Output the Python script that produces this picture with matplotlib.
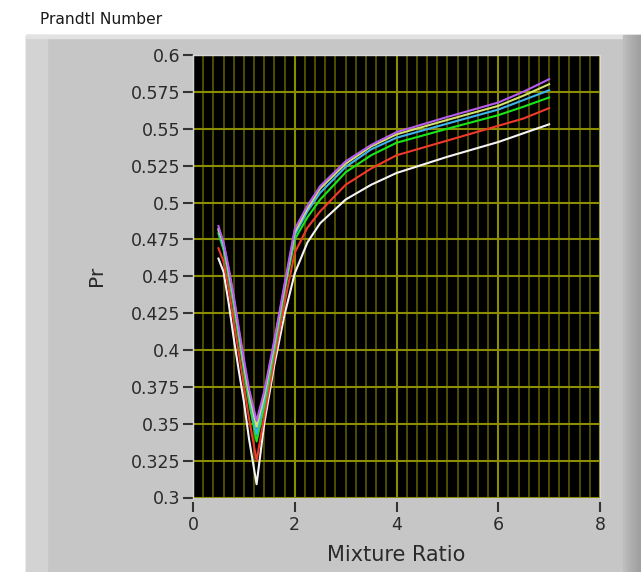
import numpy as np
import matplotlib
matplotlib.use('Agg')
import matplotlib.pyplot as plt
from matplotlib.patches import Rectangle
from matplotlib.ticker import MultipleLocator

# mixture ratio (x) and Pr for the six curves
mr = [0.5, 0.6, 0.7, 0.8, 0.9, 1.0, 1.1, 1.25, 1.4, 1.6, 1.8, 2.0, 2.25, 2.5,
      3.0, 3.5, 4.0, 5.0, 6.0, 6.5, 7.0]

pr_white = [0.462, 0.453, 0.432, 0.408, 0.386, 0.365, 0.340, 0.309, 0.350, 0.390, 0.424,
            0.452, 0.473, 0.486, 0.502, 0.512, 0.520, 0.531, 0.541, 0.547, 0.553]
pr_red = [0.469, 0.460, 0.442, 0.420, 0.398, 0.376, 0.354, 0.325, 0.355, 0.394, 0.432,
          0.466, 0.483, 0.494, 0.512, 0.523, 0.532, 0.542, 0.552, 0.557, 0.564]
pr_green = [0.479, 0.468, 0.450, 0.430, 0.408, 0.386, 0.365, 0.338, 0.362, 0.400, 0.440,
            0.475, 0.490, 0.502, 0.5205, 0.532, 0.5405, 0.550, 0.5592, 0.565, 0.5712]
pr_cyan = [0.481, 0.470, 0.452, 0.433, 0.411, 0.389, 0.369, 0.343, 0.366, 0.403, 0.442,
           0.478, 0.494, 0.5066, 0.5241, 0.536, 0.5439, 0.5535, 0.563, 0.5695, 0.5761]
pr_yellow = [0.482, 0.472, 0.454, 0.435, 0.413, 0.391, 0.371, 0.348, 0.369, 0.405, 0.443,
             0.480, 0.496, 0.5095, 0.5263, 0.538, 0.5462, 0.556, 0.5655, 0.5725, 0.5802]
pr_purple = [0.484, 0.473, 0.456, 0.437, 0.415, 0.394, 0.374, 0.352, 0.372, 0.407, 0.445,
             0.482, 0.498, 0.5111, 0.5279, 0.539, 0.5477, 0.558, 0.5678, 0.5752, 0.5836]

yticks = [0.3, 0.325, 0.35, 0.375, 0.4, 0.425, 0.45, 0.475, 0.5, 0.525, 0.55, 0.575, 0.6]
ylabels = ['0.3', '0.325', '0.35', '0.375', '0.4', '0.425', '0.45', '0.475',
           '0.5', '0.525', '0.55', '0.575', '0.6']
xticks = [0, 2, 4, 6, 8]

W, H = 641, 572
fig = plt.figure(figsize=(W / 100, H / 100), dpi=100)
fig.patch.set_facecolor('white')

# grey panel behind the graph
def px(x0, y0, x1, y1, color):
    fig.patches.append(Rectangle((x0 / W, 1 - y1 / H), (x1 - x0) / W, (y1 - y0) / H,
                                 transform=fig.transFigure, color=color, zorder=-5))

px(26, 35, 641, 572, '#c6c6c6')
px(26, 35, 47, 572, '#d3d3d3')
px(26, 35, 641, 38, '#e2e2e2')
for i, c in enumerate(['#bdbdbd', '#b6b6b6', '#b0b0b0', '#aaaaaa', '#a5a5a5', '#a0a0a0']):
    px(623 + i * 3, 35, 626 + i * 3, 572, c)

fig.text(40 / W, 1 - 20 / H, 'Prandtl Number', fontsize=11.2, color='#1a1a1a',
         ha='left', va='center')

ax = fig.add_axes([193 / W, 1 - 497.5 / H, 407 / W, 442.5 / H])
ax.set_facecolor('black')

ax.xaxis.set_minor_locator(MultipleLocator(0.2))
ax.grid(True, which='major', color='#8c8c00', linewidth=1.5)
ax.grid(True, which='minor', axis='x', color='#4e4e00', linewidth=1.4)
ax.set_axisbelow(True)

curves = [(pr_white, '#f4f4f4'), (pr_red, '#f03a2a'), (pr_green, '#18e818'),
          (pr_cyan, '#3cb4ec'), (pr_yellow, '#d2e26a'), (pr_purple, '#b65cf0')]
for vals, col in curves:
    ax.plot(mr, vals, color=col, linewidth=1.5)

ax.set_xlim(0, 8)
ax.set_ylim(0.3, 0.6)
ax.set_xticks(xticks)
ax.set_yticks(yticks)
ax.set_yticklabels(ylabels)

for s in ax.spines.values():
    s.set_color('#d8d8d8')
    s.set_linewidth(1.0)
ax.spines['bottom'].set_position(('outward', 3))
ax.spines['bottom'].set_visible(False)

ax.tick_params(axis='both', which='major', length=7, width=1.5, color='#333333',
               labelcolor='#2a2a2a', labelsize=12.5, pad=2)
ax.tick_params(axis='x', which='minor', length=0)
ax.tick_params(axis='x', pad=3)

ax.set_xlabel('Mixture Ratio', fontsize=15, color='#2a2a2a', labelpad=8)
ax.set_ylabel('Pr', fontsize=14.5, color='#2a2a2a', labelpad=18)

fig.savefig('out.png', dpi=100, facecolor=fig.get_facecolor())
